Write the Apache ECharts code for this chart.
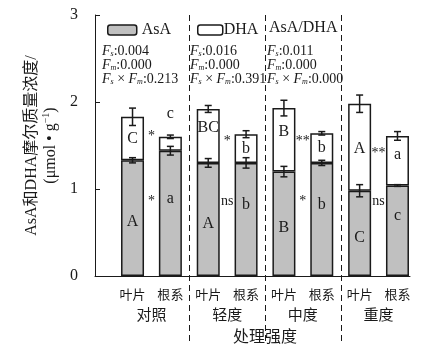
<!DOCTYPE html>
<html>
<head>
<meta charset="utf-8">
<script src="https://cdn.jsdelivr.net/npm/echarts@6/dist/echarts.min.js"></script>
<style>
	html, body { margin: 0; padding: 0; background: #fff; }
	#main { width: 428px; height: 352px; }
</style>
</head>
<body>
<div id="main"></div>
<script>
// 数据
var tissues = ['叶片', '根系', '叶片', '根系', '叶片', '根系', '叶片', '根系'];
var treatments = ['对照', '轻度', '中度', '重度'];
var asaValues = [1.33, 1.44, 1.30, 1.30, 1.20, 1.30, 0.98, 1.04];
var asaErrors = [0.03, 0.05, 0.05, 0.06, 0.06, 0.03, 0.07, 0.01];
var dhaValues = [0.50, 0.16, 0.62, 0.33, 0.73, 0.34, 1.00, 0.57];
var totalErrors = [0.10, 0.02, 0.04, 0.04, 0.09, 0.02, 0.10, 0.05];
var asaLetters = ['A', 'a', 'A', 'b', 'B', 'b', 'C', 'c'];
var dhaLetters = ['C', 'c', 'BC', 'b', 'B', 'b', 'A', 'a'];
var asaSig = ['*', 'ns', '*', 'ns'];
var dhaSig = ['*', '*', '**', '**'];
var statNames = ['AsA', 'DHA', 'AsA/DHA'];
var statFs = ['0.004', '0.016', '0.011'];
var statFm = ['0.000', '0.000', '0.000'];
var statFsm = ['0.213', '0.391', '0.000'];
var yMin = 0, yMax = 3, yStep = 1;

var SERIF = "'Liberation Serif', 'Noto Sans CJK SC', serif";
var INK = '#1a1a1a';
var GRAY = '#c0c0c0';

var chart = echarts.init(document.getElementById('main'));

// 误差线数据: [序号, 中心值, 误差]
var errData = [];
for (var i = 0; i < tissues.length; i++) {
	errData.push([i, asaValues[i], asaErrors[i]]);
	errData.push([i, asaValues[i] + dhaValues[i], totalErrors[i]]);
}

function letterLabel(letters, i, isDha) {
	var lab = { show: true, formatter: letters[i] };
	if (isDha) {
		if (i === 1) { lab.position = 'top'; lab.offset = [0, -10]; }
		else if (i === 2 || i === 4) { lab.offset = [0, -8]; }
		else if (i === 6) { lab.offset = [0, 2]; }
		else if (i === 7) { lab.offset = [0, -6]; }
	} else {
		lab.offset = (i % 2 === 0) ? [0, 4] : [0, -15];
	}
	return lab;
}

var asaData = asaValues.map(function(v, i) {
	return { value: v, label: letterLabel(asaLetters, i, false) };
});
var dhaData = dhaValues.map(function(v, i) {
	return { value: v, label: letterLabel(dhaLetters, i, true) };
});

function renderErr(params, api) {
	var x = api.value(0), c = api.value(1), e = api.value(2);
	var top = api.coord([x, c + e]);
	var bot = api.coord([x, c - e]);
	var hw = 3.5;
	var st = { stroke: INK, lineWidth: 1.5 };
	return {
		type: 'group',
		children: [
			{ type: 'line', shape: { x1: top[0], y1: top[1], x2: bot[0], y2: bot[1] }, style: st },
			{ type: 'line', shape: { x1: top[0] - hw, y1: top[1], x2: top[0] + hw, y2: top[1] }, style: st },
			{ type: 'line', shape: { x1: bot[0] - hw, y1: bot[1], x2: bot[0] + hw, y2: bot[1] }, style: st }
		]
	};
}

// 显著性标记，放在叶片和根系柱子之间
function renderSig(params, api) {
	var g = api.value(0);
	var li = g * 2, ri = g * 2 + 1;
	var dhaY = asaValues[ri] + dhaValues[ri] / 2 + 0.08;
	var a = api.coord([li, dhaY]), b = api.coord([ri, dhaY]);
	var a2 = api.coord([li, 0.86]), b2 = api.coord([ri, 0.86]);
	var ts = { fill: INK, fontSize: 14, fontFamily: SERIF, align: 'center', verticalAlign: 'middle' };
	return {
		type: 'group',
		children: [
			{ type: 'text', x: (a[0] + b[0]) / 2, y: a[1], style: Object.assign({ text: dhaSig[g] }, ts) },
			{ type: 'text', x: (a2[0] + b2[0]) / 2, y: a2[1], style: Object.assign({ text: asaSig[g] }, ts) }
		]
	};
}

function statText(k) {
	return '{f|F}{s|s}{n|:' + statFs[k] + '}\n' +
		'{f|F}{s|m}{n|:' + statFm[k] + '}\n' +
		'{f|F}{s|s}{n| × }{f|F}{s|m}{n|:' + statFsm[k] + '}';
}
var statRich = {
	f: { fontStyle: 'italic', fontSize: 14, fontFamily: SERIF, fill: INK, lineHeight: 14 },
	s: { fontStyle: 'italic', fontSize: 8, fontFamily: SERIF, fill: INK, lineHeight: 14, verticalAlign: 'bottom' },
	n: { fontSize: 14, fontFamily: SERIF, fill: INK, lineHeight: 14 }
};
var statLeft = [102, 190, 267];
var statGraphics = statLeft.map(function(x, k) {
	return {
		id: 'stat' + k, type: 'text', left: x, top: 44,
		style: { text: statText(k), rich: statRich }
	};
});
statGraphics.push({
	id: 'ratioTitle', type: 'text', left: 269, top: 20,
	style: { text: statNames[2], fontSize: 16, fontFamily: SERIF, fill: INK }
});

var option = {
	backgroundColor: '#fff',
	animation: false,
	grid: [
		{ left: 113.6, right: 11.6, top: 15, bottom: 76 },
		{ left: 95, right: 18, top: 15, bottom: 76 }
	],
	legend: [
		{ data: [statNames[0]], left: 107, top: 22, padding: 0, itemWidth: 29, itemHeight: 10,
			itemStyle: { borderColor: INK, borderWidth: 1.5 },
			textStyle: { fontSize: 16, fontFamily: SERIF, color: INK } },
		{ data: [statNames[1]], left: 197, top: 22, padding: 0, itemWidth: 25, itemHeight: 10,
			itemStyle: { borderColor: INK, borderWidth: 1.5 },
			textStyle: { fontSize: 16, fontFamily: SERIF, color: INK, padding: [0, 0, 0, -4] } }
	],
	xAxis: [
		{
			type: 'category', gridIndex: 0, position: 'bottom', data: tissues,
			axisLine: { show: false }, axisTick: { show: false },
			axisLabel: { interval: 0, margin: 13, fontSize: 13, fontFamily: SERIF, color: INK }
		},
		{
			type: 'category', gridIndex: 0, position: 'bottom', data: treatments,
			axisLine: { show: false }, axisTick: { show: false },
			axisLabel: { interval: 0, margin: 33, fontSize: 15, fontFamily: SERIF, color: INK },
			name: '处理强度', nameLocation: 'middle', nameGap: 54,
			nameTextStyle: { fontSize: 16, fontFamily: SERIF, color: INK }
		},
		{
			type: 'value', gridIndex: 1, min: 0, max: 1,
			axisLine: { show: true, lineStyle: { color: INK, width: 1 } },
			axisTick: { show: false }, axisLabel: { show: false }, splitLine: { show: false }
		}
	],
	yAxis: [
		{ type: 'value', gridIndex: 0, min: yMin, max: yMax, interval: yStep, show: false },
		{
			type: 'value', gridIndex: 1, min: yMin, max: yMax, interval: yStep,
			axisLine: { show: true, lineStyle: { color: INK, width: 1 } },
			axisTick: { show: true, inside: true, length: 5, lineStyle: { color: INK } },
			axisLabel: { margin: 17, fontSize: 16, fontFamily: SERIF, color: INK },
			splitLine: { show: false },
			name: '{a|AsA和DHA摩尔质量浓度/}\n{a|(μmol • g}{sup|−1}{a|)}',
			nameLocation: 'middle', nameRotate: 90, nameGap: 25,
			nameTextStyle: {
				rich: {
					a: { fontSize: 16, fontFamily: SERIF, color: INK, lineHeight: 19 },
					sup: { fontSize: 10, fontFamily: SERIF, color: INK, lineHeight: 19, verticalAlign: 'top' }
				}
			}
		}
	],
	series: [
		{
			name: statNames[0], type: 'bar', stack: 'total', xAxisIndex: 0, yAxisIndex: 0,
			barWidth: 23, data: asaData,
			itemStyle: { color: GRAY, borderColor: INK, borderWidth: 1.5 },
			label: { show: true, position: 'inside', fontSize: 16, fontFamily: SERIF, color: INK }
		},
		{
			name: statNames[1], type: 'bar', stack: 'total', xAxisIndex: 0, yAxisIndex: 0,
			barWidth: 23, data: dhaData,
			itemStyle: { color: '#fff', borderColor: INK, borderWidth: 1.5 },
			label: { show: true, position: 'inside', fontSize: 16, fontFamily: SERIF, color: INK }
		},
		{
			type: 'custom', xAxisIndex: 0, yAxisIndex: 0, z: 5,
			renderItem: renderErr, data: errData, silent: true
		},
		{
			type: 'custom', xAxisIndex: 0, yAxisIndex: 0, z: 5,
			renderItem: renderSig, data: treatments.map(function(t, g) { return [g]; }), silent: true
		}
	],
	graphic: statGraphics
};

chart.setOption(option);

// 虚线分隔处理组, 从坐标轴换算位置
var yTop = chart.convertToPixel({ yAxisIndex: 0 }, yMax);
var dashes = [];
for (var g = 1; g < treatments.length; g++) {
	var xa = chart.convertToPixel({ xAxisIndex: 0 }, g * 2 - 1);
	var xb = chart.convertToPixel({ xAxisIndex: 0 }, g * 2);
	var xm = Math.round((xa + xb) / 2) + 0.5;
	dashes.push({
		id: 'dash' + g, type: 'line', z: 10,
		shape: { x1: xm, y1: yTop, x2: xm, y2: 342 },
		style: { stroke: INK, lineWidth: 1, lineDash: [6, 4] }
	});
}
chart.setOption({ graphic: statGraphics.concat(dashes) });
</script>
</body>
</html>
